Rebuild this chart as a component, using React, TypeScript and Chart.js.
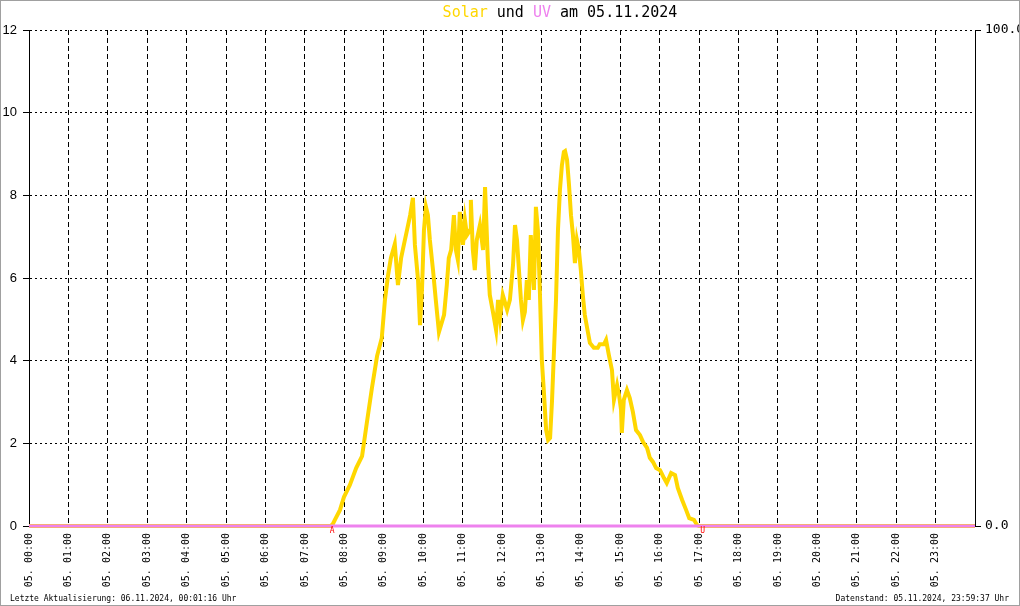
import React, { useEffect, useRef } from "react";
import { Chart, registerables } from "chart.js";

Chart.register(...registerables);

// Time of day in decimal hours, solar radiation values (left axis)
const SOLAR_HOURS = [
  0, 7.66, 7.71, 7.76, 7.89, 7.99, 8.14, 8.3, 8.45, 8.57, 8.7, 8.83, 8.95, 9.03, 9.11, 9.18,
  9.28, 9.36, 9.44, 9.51, 9.59, 9.67, 9.74, 9.79, 9.87, 9.92, 9.97, 10.02, 10.07, 10.12, 10.17,
  10.25, 10.32, 10.4, 10.53, 10.6, 10.65, 10.71, 10.78, 10.83, 10.88, 10.93, 11.01, 11.06, 11.11,
  11.19, 11.21, 11.26, 11.31, 11.36, 11.44, 11.52, 11.57, 11.64, 11.69, 11.77, 11.85, 11.9, 11.95,
  12.02, 12.13, 12.2, 12.28, 12.33, 12.38, 12.43, 12.48, 12.53, 12.58, 12.63, 12.68, 12.73, 12.81,
  12.86, 12.91, 12.96, 13.01, 13.06, 13.12, 13.17, 13.22, 13.27, 13.32, 13.37, 13.42, 13.47, 13.52,
  13.57, 13.6, 13.65, 13.7, 13.75, 13.8, 13.85, 13.9, 13.95, 14.0, 14.05, 14.1, 14.16, 14.23, 14.33,
  14.43, 14.48, 14.59, 14.64, 14.71, 14.79, 14.84, 14.92, 14.97, 15.02, 15.04, 15.09, 15.17, 15.24,
  15.32, 15.4, 15.5, 15.58, 15.68, 15.75, 15.83, 15.91, 16.01, 16.11, 16.18, 16.29, 16.39, 16.46,
  16.57, 16.67, 16.75, 16.87, 16.95, 17.0, 24,
];
const SOLAR_VALUES = [
  0, 0, 0.05, 0.15, 0.39, 0.7, 0.99, 1.4, 1.69, 2.49, 3.34, 4.11, 4.55, 5.47, 6.07, 6.48,
  6.82, 5.83, 6.48, 6.8, 7.16, 7.52, 7.94, 6.8, 5.95, 4.86, 5.71, 7.16, 7.72, 7.52, 6.92,
  6.19, 5.47, 4.69, 5.11, 5.83, 6.48, 6.68, 7.52, 6.68, 6.44, 7.6, 6.8, 7.4, 7.04,
  7.16, 7.89, 6.68, 6.19, 6.92, 7.28, 6.68, 8.2, 6.44, 5.59, 5.18, 4.74, 5.47, 5.03,
  5.59, 5.23, 5.47, 6.32, 7.28, 6.92, 6.19, 5.47, 4.98, 5.18, 5.95, 5.47, 7.04, 5.71,
  7.72, 7.16, 5.71, 4.02, 3.29, 2.32, 2.08, 2.13, 3.05, 4.26, 5.47, 7.16, 8.13, 8.73,
  9.05, 9.07, 8.86, 8.25, 7.52, 7.04, 6.36, 6.92, 6.68, 6.19, 5.59, 5.11, 4.79, 4.43, 4.31,
  4.31, 4.4, 4.4, 4.5, 4.14, 3.77, 3.05, 3.41, 3.17, 2.81, 2.25, 3.05, 3.29, 3.1,
  2.76, 2.32, 2.2, 2.03, 1.89, 1.65, 1.55, 1.4, 1.35, 1.16, 1.04, 1.28, 1.23, 0.92,
  0.63, 0.39, 0.19, 0.15, 0.02, 0, 0,
];

// UV index (right axis)
const UV_HOURS = [0, 24];
const UV_VALUES = [0, 0];

const HOUR_LABELS = [
  "05. 00:00", "05. 01:00", "05. 02:00", "05. 03:00", "05. 04:00", "05. 05:00",
  "05. 06:00", "05. 07:00", "05. 08:00", "05. 09:00", "05. 10:00", "05. 11:00",
  "05. 12:00", "05. 13:00", "05. 14:00", "05. 15:00", "05. 16:00", "05. 17:00",
  "05. 18:00", "05. 19:00", "05. 20:00", "05. 21:00", "05. 22:00", "05. 23:00",
];

const SUNRISE_HOUR = 7.69;
const SUNSET_HOUR = 17.09;

const TITLE_PARTS = [
  { text: "Solar", color: "#ffd700" },
  { text: " und ", color: "#000000" },
  { text: "UV", color: "#ee82ee" },
  { text: " am 05.11.2024", color: "#000000" },
];
const FOOTER_LEFT = "Letzte Aktualisierung: 06.11.2024, 00:01:16 Uhr";
const FOOTER_RIGHT = "Datenstand: 05.11.2024, 23:59:37 Uhr";

const MONO = "'DejaVu Sans Mono', 'Liberation Mono', monospace";

const decorPlugin = {
  id: "decor",
  afterDraw(chart: any) {
    const ctx = chart.ctx;
    const xs = chart.scales.x;
    const area = chart.chartArea;
    ctx.save();
    // title
    ctx.font = `15px ${MONO}`;
    ctx.textBaseline = "middle";
    ctx.textAlign = "left";
    let total = 0;
    TITLE_PARTS.forEach((p) => (total += ctx.measureText(p.text).width));
    let x = 560 - total / 2;
    TITLE_PARTS.forEach((p) => {
      ctx.fillStyle = p.color;
      ctx.fillText(p.text, x, 13);
      x += ctx.measureText(p.text).width;
    });
    // sunrise / sunset markers
    ctx.font = `8px ${MONO}`;
    ctx.fillStyle = "#ff0000";
    ctx.textAlign = "center";
    ctx.fillText("A", xs.getPixelForValue(SUNRISE_HOUR), area.bottom + 5);
    ctx.fillText("U", xs.getPixelForValue(SUNSET_HOUR), area.bottom + 5);
    // footer
    ctx.font = `8px ${MONO}`;
    ctx.fillStyle = "#000000";
    ctx.textAlign = "left";
    ctx.fillText(FOOTER_LEFT, 10, 599);
    ctx.textAlign = "right";
    ctx.fillText(FOOTER_RIGHT, 1009, 599);
    // outer frame
    ctx.strokeStyle = "#a0a0a0";
    ctx.lineWidth = 1;
    ctx.strokeRect(0.5, 0.5, 1019, 605);
    ctx.restore();
  },
};

export default function App() {
  const ref = useRef<HTMLCanvasElement | null>(null);

  useEffect(() => {
    if (!ref.current) return;
    const solar = SOLAR_HOURS.map((h, i) => ({ x: h, y: SOLAR_VALUES[i] }));
    const uv = UV_HOURS.map((h, i) => ({ x: h, y: UV_VALUES[i] }));
    const chart = new Chart(ref.current, {
      type: "line",
      data: {
        datasets: [
          {
            label: "UV",
            data: uv,
            yAxisID: "y2",
            borderColor: "#ee82ee",
            borderWidth: 3,
            pointRadius: 0,
            tension: 0,
            order: 0,
            clip: false,
          },
          {
            label: "Solar",
            data: solar,
            yAxisID: "y",
            borderColor: "#ffd700",
            borderWidth: 4,
            pointRadius: 0,
            tension: 0,
            order: 1,
            clip: false,
            borderJoinStyle: "miter",
          },
        ],
      },
      options: {
        responsive: false,
        animation: false,
        layout: { padding: { top: 30, left: 0, right: 0, bottom: 0 } },
        plugins: { legend: { display: false }, tooltip: { enabled: false }, title: { display: false } },
        scales: {
          x: {
            type: "linear",
            min: 0,
            max: 24,
            afterFit: (s: any) => {
              s.height = 80;
            },
            afterBuildTicks: (s: any) => {
              const t = [];
              for (let i = 0; i <= 24; i++) t.push({ value: i });
              s.ticks = t;
            },
            grid: {
              color: "#000000",
              lineWidth: 1,
              drawTicks: false,
            },
            border: { display: true, color: "#000000", width: 1, dash: [5, 3] },
            ticks: {
              autoSkip: false,
              minRotation: 90,
              maxRotation: 90,
              padding: 7,
              color: "#000000",
              font: { family: MONO, size: 10 },
              callback: (v: any) => HOUR_LABELS[v] ?? "",
            },
          },
          y: {
            position: "left",
            min: 0,
            max: 12,
            afterFit: (s: any) => {
              s.width = 29;
            },
            grid: {
              color: "#000000",
              lineWidth: 1,
              drawTicks: true,
              tickLength: 6,
              tickColor: "#000000",
              tickBorderDash: [],
            },
            border: { display: true, color: "#000000", width: 1, dash: [2, 3] },
            ticks: {
              stepSize: 2,
              padding: 6,
              color: "#000000",
              font: { family: "'Liberation Sans', Arial, sans-serif", size: 13 },
            },
          },
          y2: {
            position: "right",
            min: 0,
            max: 100,
            afterFit: (s: any) => {
              s.width = 45;
            },
            afterBuildTicks: (s: any) => {
              s.ticks = [{ value: 0 }, { value: 100 }];
            },
            grid: {
              drawOnChartArea: false,
              drawTicks: true,
              tickLength: 6,
              tickColor: "#000000",
              color: "#000000",
            },
            border: { display: true, color: "#000000", width: 1 },
            ticks: {
              padding: 4,
              color: "#000000",
              font: { family: MONO, size: 13 },
              callback: (v: any) => Number(v).toFixed(1),
            },
          },
        },
      },
      plugins: [decorPlugin],
    } as any);
    return () => chart.destroy();
  }, []);

  return (
    <div style={{ position: "fixed", left: 0, top: 0, width: 1020, height: 606, background: "#ffffff" }}>
      <canvas ref={ref} width={1020} height={606} style={{ display: "block" }} />
    </div>
  );
}
